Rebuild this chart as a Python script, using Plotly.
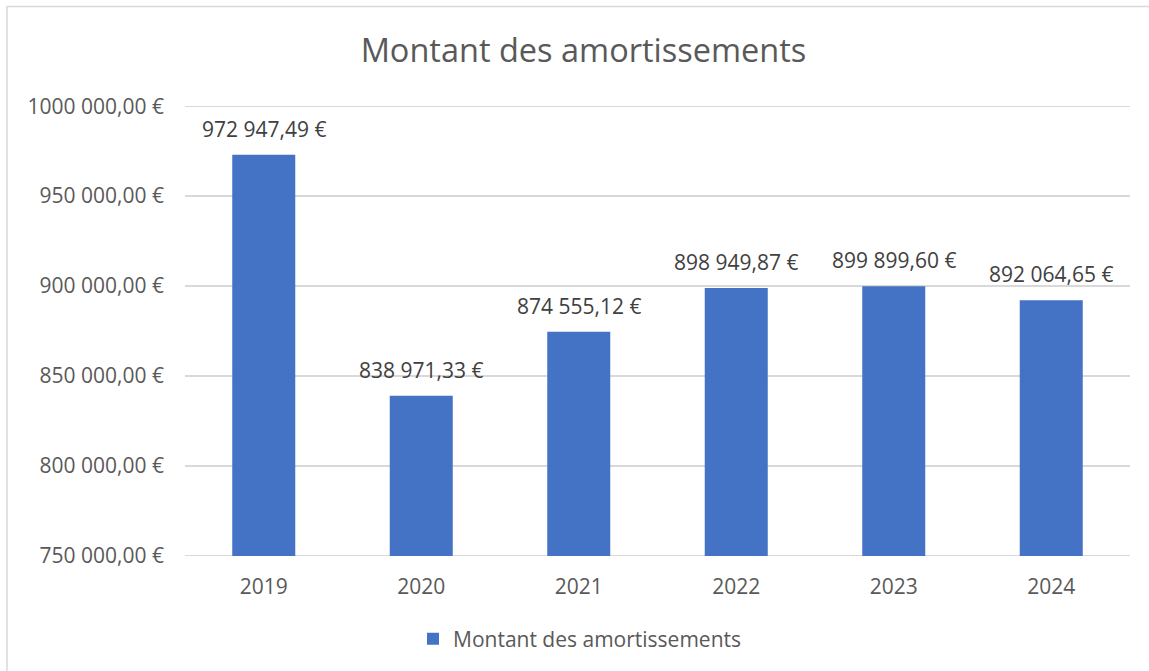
import plotly.graph_objects as go

# Chart data
years = ["2019", "2020", "2021", "2022", "2023", "2024"]
amortissements = [972947.49, 838971.33, 874555.12, 898949.87, 899899.60, 892064.65]
y_tick_values = [750000, 800000, 850000, 900000, 950000, 1000000]
y_tick_labels = ["750 000,00 €", "800 000,00 €", "850 000,00 €",
                 "900 000,00 €", "950 000,00 €", "1000 000,00 €"]

SERIES_NAME = "Montant des amortissements"
BAR_COLOR = "#4472C4"
GRID_COLOR = "#D9D9D9"
FONT = "Open Sans"
FS = 21

W, H = 1149, 671
L, R, T, B = 185, 19, 106, 115


def fmt_eur(v):
    whole, dec = f"{v:,.2f}".split(".")
    return whole.replace(",", " ") + "," + dec + " €"


fig = go.Figure()
fig.add_trace(go.Bar(
    x=years,
    y=amortissements,
    name=SERIES_NAME,
    marker=dict(color=BAR_COLOR, line=dict(width=0)),
    showlegend=True,
))

# value labels above each bar (category index as x position)
for i, v in enumerate(amortissements):
    fig.add_annotation(
        x=i, y=v, text=fmt_eur(v), showarrow=False,
        yanchor="middle", yshift=26,
        font=dict(family=FONT, size=FS, color="#404040"),
    )

pw = W - L - R
ph = H - T - B
def px_x(p):
    return (p - L) / pw
def px_y(p):
    return 1 - (p - T) / ph

# gridlines at the two ends of the value range
for yv in (y_tick_values[0], y_tick_values[-1]):
    fig.add_shape(type="line", xref="paper", yref="y", x0=0, x1=1, y0=yv, y1=yv,
                  line=dict(color=GRID_COLOR, width=1.5), layer="below")

# outer chart border (left and top visible edges)
fig.add_shape(type="rect", xref="paper", yref="paper",
              x0=px_x(7), x1=px_x(1170), y0=px_y(690), y1=px_y(6.5),
              line=dict(color=GRID_COLOR, width=1.5), fillcolor="rgba(0,0,0,0)",
              layer="below")

fig.update_layout(
    width=W, height=H,
    margin=dict(l=L, r=R, t=T, b=B),
    paper_bgcolor="white", plot_bgcolor="white",
    bargap=0.6,
    title=dict(text=SERIES_NAME, x=583.5 / W, xanchor="center", xref="container",
               y=1 - 51 / H, yanchor="middle", yref="container",
               font=dict(family=FONT, size=32.5, color="#595959")),
    font=dict(family=FONT, color="#595959"),
    legend=dict(orientation="h", x=px_x(413), xanchor="left",
                y=px_y(639), yanchor="middle",
                font=dict(family=FONT, size=FS, color="#595959"),
                itemwidth=30),
    xaxis=dict(type="category", range=[-0.5, len(years) - 0.5],
               showline=False, ticks="", showgrid=False,
               tickfont=dict(family=FONT, size=FS, color="#595959"),
               ticklabelstandoff=16),
    yaxis=dict(range=[749900, 1000100], tickvals=y_tick_values,
               ticktext=y_tick_labels, showgrid=True,
               gridcolor=GRID_COLOR, gridwidth=1.5, zeroline=False,
               showline=False, ticks="", ticklabelstandoff=20,
               tickfont=dict(family=FONT, size=FS, color="#595959")),
)

fig.write_html("out.html")
